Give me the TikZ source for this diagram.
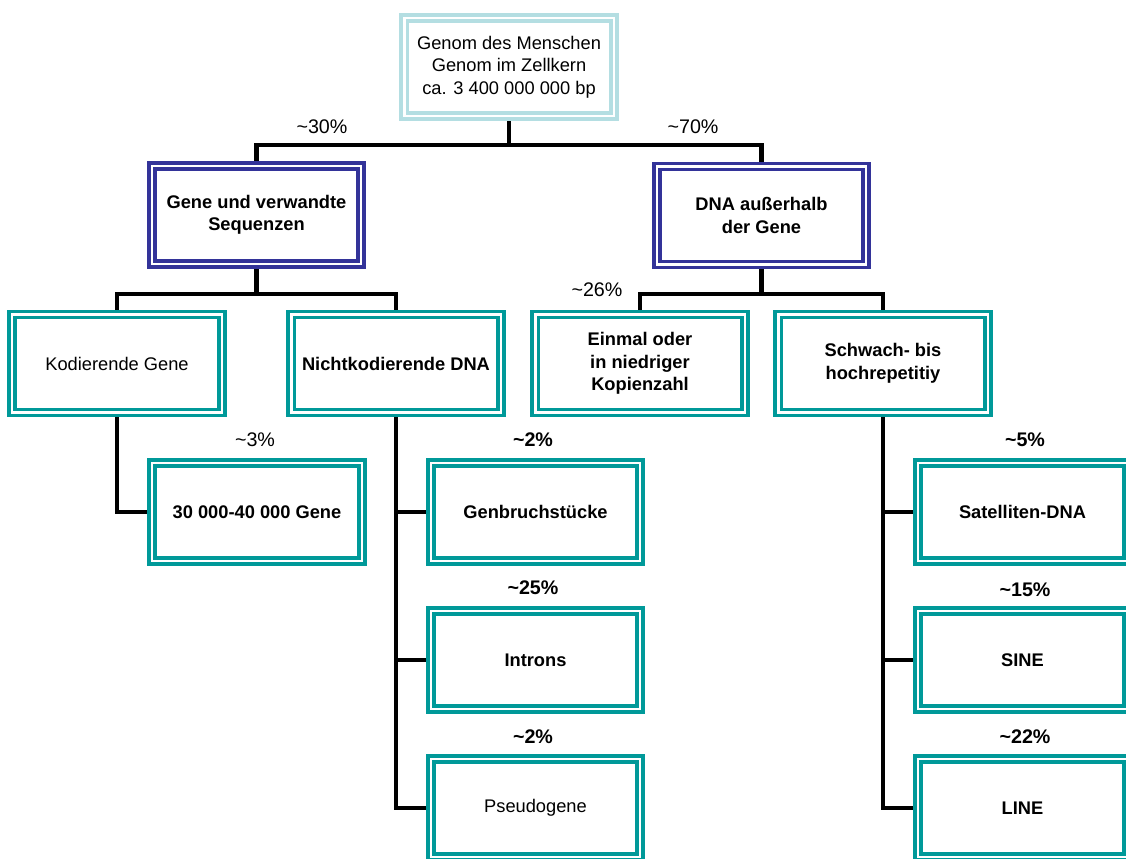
\documentclass[tikz,border=0pt]{standalone}
\usepackage{fontspec}
\setmainfont{Liberation Sans}
\usepackage{tikz}
\usetikzlibrary{backgrounds}
\definecolor{GenomTeal}{HTML}{009999}
\definecolor{GenomNavy}{HTML}{333399}
\definecolor{GenomLight}{HTML}{B4DEE2}

\begin{document}
\begin{tikzpicture}[
    x=0.025cm,y=-0.025cm,
    box/.style={draw=GenomTeal,double=white,double distance=1.6pt,line width=2.7pt,
      fill=white,minimum width=5.23cm,minimum height=2.45cm,align=center,inner sep=2pt,
      font=\fontsize{13}{16}\selectfont\bfseries},
    plainbox/.style={box,font=\fontsize{13}{16}\selectfont},
    mainbox/.style={box,draw=GenomNavy},
    topbox/.style={box,draw=GenomLight,font=\fontsize{13}{16}\selectfont},
    pct/.style={font=\fontsize{14}{16}\selectfont},
    pctb/.style={pct,font=\fontsize{14}{16}\selectfont\bfseries},
    link/.style={line width=2.9pt,draw=black}
  ]
    \useasboundingbox (0,0) rectangle (1126,858);
    \clip (0,0) rectangle (1126,858);

    \node[topbox] (genom) at (509,67) {Genom des Menschen\\Genom im Zellkern\\ca. 3 400 000 000 bp};
    \node[mainbox] (gene) at (256.5,215) {Gene und verwandte\\Sequenzen};
    \node[mainbox] (extra) at (761.5,215.5) {DNA außerhalb\\der Gene};

    \node[plainbox] (kod) at (117,363.5) {Kodierende Gene};
    \node[box] (nkod) at (396,363.5) {Nichtkodierende DNA};
    \node[box] (einmal) at (640,363.5) {Einmal oder\\in niedriger\\Kopienzahl};
    \node[box] (repet) at (883,363.5) {Schwach- bis\\hochrepetitiy};

    \node[box] (anzahl) at (257,512) {30 000-40 000 Gene};
    \node[box] (bruch) at (535.5,512) {Genbruchstücke};
    \node[box] (intron) at (535.5,660) {Introns};
    \node[plainbox] (pseudo) at (535.5,808) {Pseudogene};
    \node[box] (sat) at (1022.5,512) {Satelliten-DNA};
    \node[box] (sine) at (1022.5,660) {SINE};
    \node[box] (line) at (1022.5,808) {LINE};

    \node[pct] (p30) at (322,127) {\textasciitilde30\%};
    \node[pct] (p70) at (693,127) {\textasciitilde70\%};
    \node[pct] (p26) at (597,290) {\textasciitilde26\%};
    \node[pct] (p3) at (255,440) {\textasciitilde3\%};
    \node[pctb] (p2a) at (533,440) {\textasciitilde2\%};
    \node[pctb] (p25) at (533,588) {\textasciitilde25\%};
    \node[pctb] (p2b) at (533,737) {\textasciitilde2\%};
    \node[pctb] (p5) at (1025,440) {\textasciitilde5\%};
    \node[pctb] (p15) at (1025,590) {\textasciitilde15\%};
    \node[pctb] (p22) at (1025,737) {\textasciitilde22\%};

    \coordinate (j1) at (509,145);
    \coordinate (j2) at (256.5,294);
    \coordinate (j3) at (761.5,294);

    \begin{scope}[on background layer]
      \draw[link] (genom.south) -- (j1);
      \draw[link] (gene.north) |- (j1) -| (extra.north);
      \draw[link] (gene.south) -- (j2);
      \draw[link] (kod.north) |- (j2) -| (nkod.north);
      \draw[link] (extra.south) -- (j3);
      \draw[link] (einmal.north) |- (j3) -| (repet.north);
      \draw[link] (kod.south) |- (anzahl.west);
      \draw[link] (nkod.south) |- (bruch.west);
      \draw[link] (nkod.south) |- (intron.west);
      \draw[link] (nkod.south) |- (pseudo.west);
      \draw[link] (repet.south) |- (sat.west);
      \draw[link] (repet.south) |- (sine.west);
      \draw[link] (repet.south) |- (line.west);
    \end{scope}
  \end{tikzpicture}
\end{document}
